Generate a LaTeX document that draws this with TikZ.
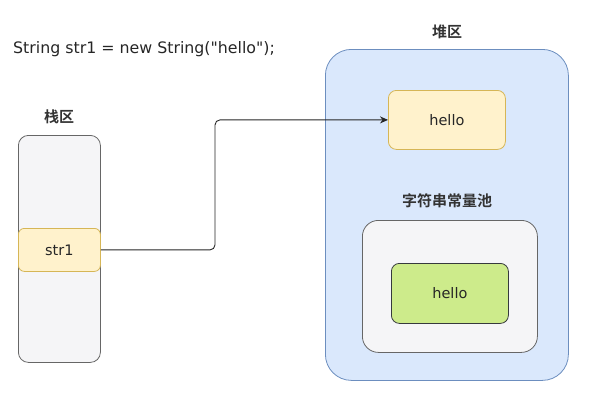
\documentclass[tikz,border=0pt]{standalone}
\usepackage{fontspec}
\setmainfont{DejaVu Sans}[Ligatures=TeXOff]
\newfontfamily\cjk{Noto Sans CJK SC}[BoldFont={Noto Sans CJK SC Bold}]
\usetikzlibrary{arrows.meta}
\definecolor{grayfill}{HTML}{F5F5F7}
\definecolor{graystroke}{HTML}{666666}
\definecolor{yfill}{HTML}{FFF2CC}
\definecolor{ystroke}{HTML}{D6B656}
\definecolor{bfill}{HTML}{DAE8FC}
\definecolor{bstroke}{HTML}{6C8EBF}
\definecolor{gfill}{HTML}{CDEB8B}
\definecolor{gstroke}{HTML}{36393D}
\definecolor{labelc}{HTML}{333333}
\tikzset{
  box/.style={draw, line width=0.8pt, inner sep=0pt, anchor=north west},
  graybox/.style={box, fill=grayfill, draw=graystroke},
  yellowbox/.style={box, fill=yfill, draw=ystroke},
  heapbox/.style={box, fill=bfill, draw=bstroke},
  greenbox/.style={box, fill=gfill, draw=gstroke},
  cnlabel/.style={font=\cjk\bfseries\fontsize{15}{18}\selectfont, text=labelc},
  codetext/.style={font=\fontsize{14.5}{17}\selectfont, text=black!85},
  titletext/.style={font=\fontsize{15.8}{18}\selectfont, text=black!85},
}
\begin{document}
\begin{tikzpicture}[x=1pt,y=-1pt]
\useasboundingbox (0,0) rectangle (600,402);
% title
\node[titletext, anchor=west, inner sep=0pt] (code) at (13,49) {String str1 = new String("hello");};
% stack
\node[graybox, rounded corners=10pt, minimum width=82pt, minimum height=227pt] (stack) at (18,135) {};
\node[cnlabel] (stacklbl) at (59,117) {栈区};
\node[yellowbox, rounded corners=6pt, minimum width=82pt, minimum height=43pt] (str1) at (18,228) {};
\node[codetext] at (str1.center) {str1};
% heap
\node[heapbox, rounded corners=26pt, minimum width=243pt, minimum height=331pt] (heap) at (325,49) {};
\node[cnlabel] (heaplbl) at (447,32) {堆区};
\node[yellowbox, rounded corners=8pt, minimum width=117pt, minimum height=59pt] (h1) at (388,90) {};
\node[codetext] at (h1.center) {hello};
\node[cnlabel] (poollbl) at (447,201) {字符串常量池};
\node[graybox, rounded corners=16pt, minimum width=175pt, minimum height=132pt] (pool) at (362,220) {};
\node[greenbox, rounded corners=8pt, minimum width=117pt, minimum height=60pt] (h2) at (391,263) {};
\node[codetext] at (h2.center) {hello};
% arrow
\draw[line width=0.9pt, black!85, rounded corners=5pt, -{Stealth[length=8pt,width=7pt]}]
  (str1.east) -| (215,180) |- (h1.west);
\end{tikzpicture}
\end{document}
